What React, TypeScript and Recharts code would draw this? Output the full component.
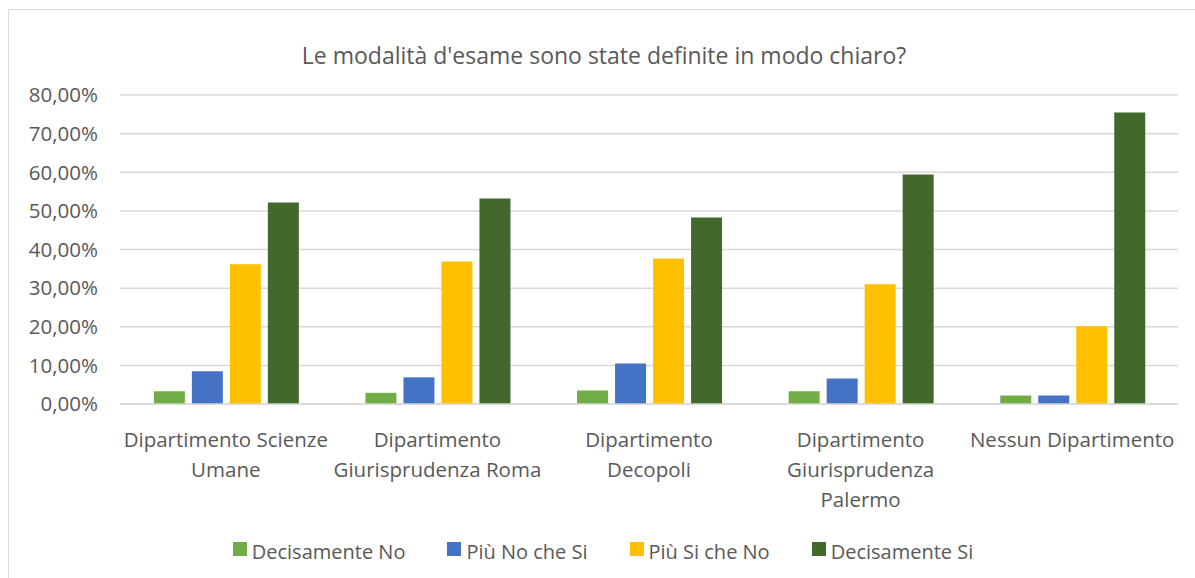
import { Bar, BarChart, CartesianGrid, Legend, XAxis, YAxis } from "recharts";

const departments = [
  "Dipartimento Scienze Umane",
  "Dipartimento Giurisprudenza Roma",
  "Dipartimento Decopoli",
  "Dipartimento Giurisprudenza Palermo",
  "Nessun Dipartimento",
];
// wrapped the way the original axis shows them
const departmentLines = [
  ["Dipartimento Scienze", "Umane"],
  ["Dipartimento", "Giurisprudenza Roma"],
  ["Dipartimento", "Decopoli"],
  ["Dipartimento", "Giurisprudenza", "Palermo"],
  ["Nessun Dipartimento"],
];

const decisamenteNo = [3.3, 2.9, 3.5, 3.3, 2.2];
const piuNoCheSi = [8.5, 6.9, 10.5, 6.6, 2.2];
const piuSiCheNo = [36.2, 36.9, 37.7, 31.0, 20.1];
const decisamenteSi = [52.2, 53.2, 48.3, 59.4, 75.5];

const yTicks = [0, 10, 20, 30, 40, 50, 60, 70, 80];

const series = [
  { key: "decisamenteNo", name: "Decisamente No", color: "#70AD47" },
  { key: "piuNoCheSi", name: "Più No che Si", color: "#4472C4" },
  { key: "piuSiCheNo", name: "Più Si che No", color: "#FFC000" },
  { key: "decisamenteSi", name: "Decisamente Si", color: "#43682B" },
];

const data = departments.map((name, i) => ({
  name,
  decisamenteNo: decisamenteNo[i],
  piuNoCheSi: piuNoCheSi[i],
  piuSiCheNo: piuSiCheNo[i],
  decisamenteSi: decisamenteSi[i],
}));

const FONT = "'Open Sans', sans-serif";
const TEXT = "#595959";

const fmtPct = (v: number) => v.toFixed(2).replace(".", ",") + "%";

function DeptTick({ x, y, index }: any) {
  const lines = departmentLines[index] || [];
  return (
    <g>
      {lines.map((l, i) => (
        <text
          key={i}
          x={x}
          y={y + 35 + i * 30}
          textAnchor="middle"
          fill={TEXT}
          fontSize={20.5}
          fontFamily={FONT}
        >
          {l}
        </text>
      ))}
    </g>
  );
}

function LegendRow() {
  return (
    <div
      style={{
        display: "flex",
        justifyContent: "center",
        alignItems: "center",
        gap: 42,
        fontFamily: FONT,
        fontSize: 20,
        color: TEXT,
        paddingLeft: 28,
        paddingTop: 14,
      }}
    >
      {series.map((s) => (
        <div key={s.key} style={{ display: "flex", alignItems: "center" }}>
          <span
            style={{
              display: "inline-block",
              width: 14,
              height: 14,
              background: s.color,
              marginRight: 5,
              marginTop: -6,
            }}
          />
          <span>{s.name}</span>
        </div>
      ))}
    </div>
  );
}

export default function App() {
  return (
    <div
      style={{
        position: "absolute",
        left: 0,
        top: 0,
        width: 1195,
        height: 578,
        background: "#fff",
        overflow: "hidden",
      }}
    >
      <div
        style={{
          position: "absolute",
          left: 8,
          top: 9,
          width: 1200,
          height: 600,
          border: "1.5px solid #d9d9d9",
        }}
      />
      <div
        style={{
          position: "absolute",
          left: 0,
          top: 39,
          width: 1208,
          textAlign: "center",
          fontFamily: FONT,
          fontSize: 23,
          color: TEXT,
        }}
      >
        Le modalità d'esame sono state definite in modo chiaro?
      </div>
      <div style={{ position: "absolute", left: 0, top: 0 }}>
        <BarChart
          width={1195}
          height={578}
          data={data}
          margin={{ top: 95, right: 17, bottom: 0, left: 0 }}
          barCategoryGap="16%"
          barGap={7}
        >
          <CartesianGrid vertical={false} stroke="#d9d9d9" strokeWidth={1.5} />
          <XAxis
            dataKey="name"
            height={120}
            axisLine={{ stroke: "#d9d9d9", strokeWidth: 1.5 }}
            tickLine={false}
            interval={0}
            tick={<DeptTick />}
          />
          <YAxis
            width={120}
            domain={[0, 80]}
            ticks={yTicks}
            tickFormatter={fmtPct}
            axisLine={false}
            tickLine={false}
            tickMargin={16}
            tick={{ fill: TEXT, fontSize: 20.5, fontFamily: FONT }}
          />
          <Legend verticalAlign="bottom" height={54} content={<LegendRow />} />
          {series.map((s) => (
            <Bar
              key={s.key}
              dataKey={s.key}
              name={s.name}
              fill={s.color}
              isAnimationActive={false}
            />
          ))}
        </BarChart>
      </div>
    </div>
  );
}
